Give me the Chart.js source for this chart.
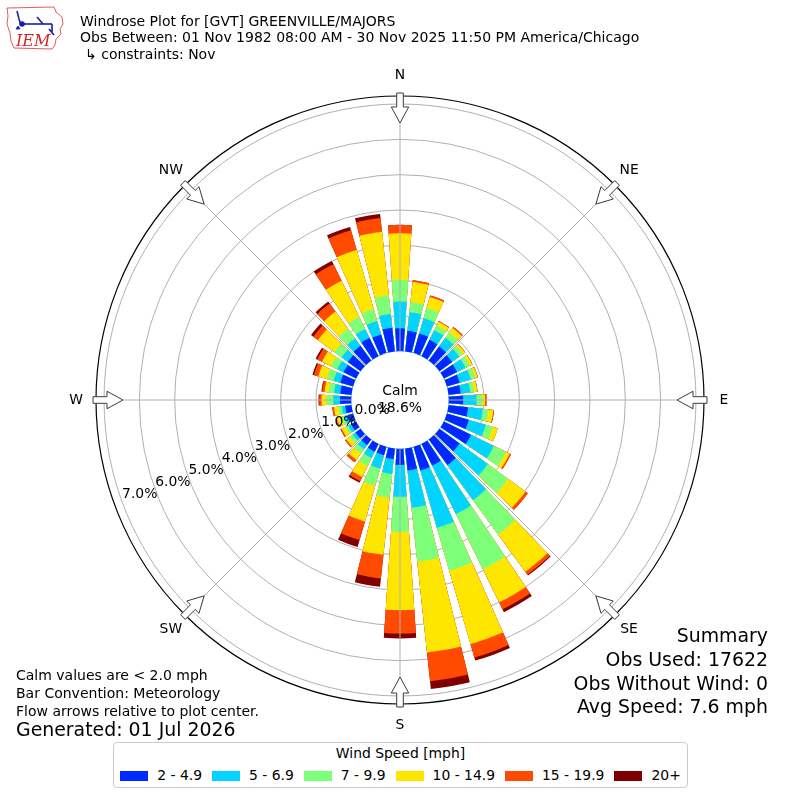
<!DOCTYPE html>
<html>
<head>
<meta charset="utf-8">
<script src="https://cdn.jsdelivr.net/npm/chart.js@4.4.1/dist/chart.umd.min.js"></script>
<style>
  html, body { margin: 0; padding: 0; background: #fff; }
  #wrap { position: relative; width: 800px; height: 800px; overflow: hidden; font-family: "DejaVu Sans", sans-serif; color: #000; }
  #c { position: absolute; left: 0; top: 0; }
  .t { position: absolute; white-space: nowrap; line-height: 1; z-index: 2; }
  .s14 { font-size: 14px; }
  .s19 { font-size: 18.9px; }
  #legend { position: absolute; left: 113px; top: 742px; width: 575px; height: 46px; border: 1px solid #cccccc; border-radius: 4px; background: #fff; z-index: 2; box-sizing: border-box; }
  #legendTitle { position: absolute; left: 0; right: 0; top: 4px; text-align: center; font-size: 13.9px; line-height: 1; }
  #legendRow { position: absolute; left: 0; right: 0; top: 26px; display: flex; justify-content: center; align-items: center; font-size: 13.9px; line-height: 1; }
  .sw { width: 28px; height: 10px; display: inline-block; margin-right: 9px; }
  .it { display: flex; align-items: center; margin: 0 5px; }
</style>
</head>
<body>
<div id="wrap">
  <canvas id="c" width="800" height="800"></canvas>

  <svg style="position:absolute;left:5px;top:5px;z-index:2" width="62" height="46" viewBox="0 0 62 46">
    <path d="M2,3 L49,2 L51,7 L57,12 L58,19 L55,24 L56,29 L51,34 L50,40 L47,44 L9,43 L6,36 L5,28 L2,19 L3,11 Z" fill="#fff" stroke="#e04848" stroke-width="0.9"/>
    <g stroke="#1b1ba8" fill="#1b1ba8" stroke-width="1.6">
      <line x1="12" y1="6" x2="14" y2="14"/>
      <line x1="14" y1="14" x2="16" y2="20"/>
      <circle cx="17" cy="19" r="2"/>
      <line x1="17" y1="19" x2="47" y2="19"/>
      <line x1="32" y1="12" x2="38" y2="19"/>
      <line x1="47" y1="19" x2="47" y2="27"/>
      <line x1="44" y1="24" x2="49" y2="30"/>
      <path d="M11,24 l2,-3 l2,3 z" stroke-width="0.8"/>
    </g>
    <text x="11" y="41" font-family="DejaVu Serif, serif" font-style="italic" font-size="16" fill="#d42424">IEM</text>
  </svg>

  <div class="t s14" style="left:80px;top:14px;">Windrose Plot for [GVT] GREENVILLE/MAJORS</div>
  <div class="t s14" style="left:80px;top:30px;">Obs Between: 01 Nov 1982 08:00 AM - 30 Nov 2025 11:50 PM America/Chicago</div>
  <div class="t s14" style="left:85px;top:46.5px;">↳ constraints: Nov</div>

  <div class="t s14" style="left:16px;top:668px;">Calm values are &lt; 2.0 mph</div>
  <div class="t s14" style="left:16px;top:686px;">Bar Convention: Meteorology</div>
  <div class="t s14" style="left:16px;top:704px;">Flow arrows relative to plot center.</div>
  <div class="t s19" style="left:16px;top:719.5px;">Generated: 01 Jul 2026</div>

  <div class="t s19" style="right:32px;top:626px;text-align:right;">Summary</div>
  <div class="t s19" style="right:32px;top:650px;text-align:right;">Obs Used: 17622</div>
  <div class="t s19" style="right:32px;top:674px;text-align:right;">Obs Without Wind: 0</div>
  <div class="t s19" style="right:32px;top:697px;text-align:right;">Avg Speed: 7.6 mph</div>

  <div id="legend">
    <div id="legendTitle">Wind Speed [mph]</div>
    <div id="legendRow"></div>
  </div>
</div>

<script>
// ---------------- DATA ----------------
// Wind direction sectors (degrees, meteorological: direction wind blows from)
const directions = [0, 10, 20, 30, 40, 50, 60, 70, 80, 90, 100, 110, 120, 130, 140, 150, 160, 170,
                    180, 190, 200, 210, 220, 230, 240, 250, 260, 270, 280, 290, 300, 310, 320, 330, 340, 350];

// Frequency (% of observations) per direction for each speed bin
const spd2to5 = [0.65, 0.59, 0.58, 0.52, 0.50, 0.45, 0.42, 0.38, 0.35, 0.41, 0.56, 0.65, 0.86, 0.71, 0.90, 0.69, 0.70, 0.63,
                 0.46, 0.30, 0.25, 0.25, 0.20, 0.18, 0.16, 0.17, 0.18, 0.32, 0.32, 0.38, 0.40, 0.45, 0.52, 0.58, 0.55, 0.68];
const spd5to7 = [0.76, 0.53, 0.45, 0.30, 0.30, 0.25, 0.27, 0.33, 0.27, 0.38, 0.42, 0.50, 0.72, 0.99, 1.23, 1.53, 1.69, 1.06,
                 0.90, 0.43, 0.40, 0.20, 0.15, 0.10, 0.10, 0.10, 0.10, 0.19, 0.18, 0.20, 0.20, 0.22, 0.26, 0.28, 0.40, 0.39];
const spd7to10 = [0.61, 0.29, 0.30, 0.15, 0.18, 0.12, 0.13, 0.13, 0.11, 0.17, 0.16, 0.20, 0.38, 0.71, 1.20, 1.74, 1.26, 1.53,
                  0.99, 0.67, 0.50, 0.25, 0.15, 0.10, 0.08, 0.09, 0.10, 0.19, 0.15, 0.20, 0.20, 0.25, 0.34, 0.38, 0.35, 0.53];
const spd10to15 = [1.32, 0.57, 0.33, 0.12, 0.16, 0.08, 0.08, 0.07, 0.09, 0.07, 0.14, 0.15, 0.12, 0.61, 1.31, 1.04, 2.16, 2.59,
                   2.22, 1.63, 1.05, 0.35, 0.22, 0.13, 0.12, 0.12, 0.12, 0.14, 0.12, 0.25, 0.28, 0.58, 0.60, 1.14, 1.74, 1.81];
const spd15to20 = [0.24, 0.05, 0.04, 0.02, 0.04, 0.01, 0.01, 0.01, 0.01, 0.04, 0.02, 0.00, 0.04, 0.08, 0.10, 0.22, 0.40, 0.82,
                   0.66, 0.67, 0.55, 0.13, 0.08, 0.04, 0.04, 0.04, 0.05, 0.07, 0.07, 0.13, 0.15, 0.16, 0.28, 0.52, 0.58, 0.39];
const spd20plus = [0.00, 0.00, 0.00, 0.00, 0.00, 0.00, 0.00, 0.00, 0.00, 0.00, 0.00, 0.00, 0.00, 0.00, 0.03, 0.09, 0.09, 0.22,
                   0.14, 0.24, 0.20, 0.05, 0.00, 0.00, 0.00, 0.00, 0.00, 0.02, 0.02, 0.04, 0.05, 0.08, 0.07, 0.10, 0.10, 0.12];

const binLabels = ['2 - 4.9', '5 - 6.9', '7 - 9.9', '10 - 14.9', '15 - 19.9', '20+'];
const binColors = ['#0029ff', '#00d4ff', '#7dff7a', '#ffe600', '#ff4a00', '#800000'];

const ringValues = [0, 1, 2, 3, 4, 5, 6, 7];           // radial grid / tick labels (%)
const compassNames = ['N', 'NE', 'E', 'SE', 'S', 'SW', 'W', 'NW'];
const compassDeg = [0, 45, 90, 135, 180, 225, 270, 315];
const calmPct = 18.6;

// ---------------- AXIS SETTINGS ----------------
const R_MIN = -1.378;   // leaves room for the calm circle inside 0 %
const R_MAX = 7.227;
const BAR_DEG = 7.8;    // angular width of a bar
const GAP_DEG = 2.2;    // angular gap between bars

// ---------------- BUILD ----------------
const bins = [spd2to5, spd5to7, spd7to10, spd10to15, spd15to20, spd20plus];
const labels = [];
directions.forEach(d => { labels.push(d + '°'); labels.push(''); });

const datasets = bins.map((_, k) => {
  const data = [];
  directions.forEach((d, i) => {
    let c = 0;
    for (let j = 0; j <= k; j++) c += bins[j][i];
    data.push(c);   // stacked (cumulative) bar
    data.push(0);   // gap sector
  });
  return {
    label: binLabels[k],
    data,
    backgroundColor: binColors[k],
    borderWidth: 0,
    angle: (ctx) => (ctx.dataIndex % 2 === 0 ? BAR_DEG : GAP_DEG)
  };
});

// legend (HTML)
const row = document.getElementById('legendRow');
binLabels.forEach((l, k) => {
  const it = document.createElement('div');
  it.className = 'it';
  const sw = document.createElement('span');
  sw.className = 'sw';
  sw.style.background = binColors[k];
  const tx = document.createElement('span');
  tx.textContent = l;
  it.appendChild(sw); it.appendChild(tx);
  row.appendChild(it);
});

const FONT = '13.9px "DejaVu Sans", sans-serif';

const windroseDecor = {
  id: 'windroseDecor',
  afterDatasetsDraw(chart) {
    const s = chart.scales.r, ctx = chart.ctx;
    ctx.save();
    ctx.beginPath();
    ctx.arc(s.xCenter, s.yCenter, s.getDistanceFromCenterForValue(0), 0, Math.PI * 2);
    ctx.fillStyle = '#fff';
    ctx.fill();
    ctx.restore();
  },
  afterDraw(chart) {
    const s = chart.scales.r, ctx = chart.ctx;
    const cx = s.xCenter, cy = s.yCenter, R = s.drawingArea;
    const r0 = s.getDistanceFromCenterForValue(0);
    ctx.save();
    // spokes
    ctx.strokeStyle = '#b0b0b0';
    ctx.lineWidth = 1;
    compassDeg.forEach(b => {
      const a = b * Math.PI / 180, ux = Math.sin(a), uy = -Math.cos(a);
      ctx.beginPath();
      ctx.moveTo(cx + ux * r0, cy + uy * r0);
      ctx.lineTo(cx + ux * R, cy + uy * R);
      ctx.stroke();
    });
    // flow arrows (pointing to the centre)
    compassDeg.forEach(b => {
      const a = b * Math.PI / 180, ux = Math.sin(a), uy = -Math.cos(a), vx = Math.cos(a), vy = Math.sin(a);
      const pts = [[R + 3, -3.3], [R - 11, -3.3], [R - 11, -8.7], [R - 27, 0], [R - 11, 8.7], [R - 11, 3.3], [R + 3, 3.3]];
      ctx.beginPath();
      pts.forEach((p, i) => {
        const x = cx + ux * p[0] + vx * p[1], y = cy + uy * p[0] + vy * p[1];
        if (i === 0) ctx.moveTo(x, y); else ctx.lineTo(x, y);
      });
      ctx.closePath();
      ctx.fillStyle = '#fff';
      ctx.fill();
      ctx.strokeStyle = '#3a3a3a';
      ctx.lineWidth = 1;
      ctx.stroke();
    });
    // compass labels
    ctx.fillStyle = '#000';
    ctx.font = FONT;
    ctx.textAlign = 'center';
    ctx.textBaseline = 'middle';
    compassDeg.forEach((b, i) => {
      const a = b * Math.PI / 180;
      ctx.fillText(compassNames[i], cx + Math.sin(a) * (R + 20), cy - Math.cos(a) * (R + 21));
    });
    // radial tick labels along bearing 250°
    const la = 250 * Math.PI / 180;
    ringValues.forEach(v => {
      const d = s.getDistanceFromCenterForValue(v) - 19;
      ctx.fillText(v.toFixed(1) + '%', cx + Math.sin(la) * d, cy - Math.cos(la) * d);
    });
    // calm text
    ctx.fillText('Calm', cx, cy - 9);
    ctx.fillText(calmPct.toFixed(1) + '%', cx, cy + 8);
    ctx.restore();
  }
};

new Chart(document.getElementById('c'), {
  type: 'polarArea',
  data: { labels, datasets },
  options: {
    responsive: false,
    animation: false,
    devicePixelRatio: 1,
    layout: { padding: { left: 96, right: 96, top: 96, bottom: 96 } },
    plugins: { legend: { display: false }, tooltip: { enabled: false } },
    scales: {
      r: {
        min: R_MIN,
        max: R_MAX,
        startAngle: -BAR_DEG / 2,
        ticks: { display: false, z: 1 },
        angleLines: { display: false },
        pointLabels: { display: false },
        grid: {
          circular: true,
          color: (ctx) => (ctx.tick && (ctx.tick.value === 0 || ctx.tick.value === R_MAX)) ? '#000' : '#b0b0b0',
          lineWidth: (ctx) => (ctx.tick && ctx.tick.value === R_MAX) ? 1.2 : 1
        },
        afterBuildTicks: (scale) => {
          scale.ticks = ringValues.concat([R_MAX]).map(v => ({ value: v }));
        }
      }
    }
  },
  plugins: [windroseDecor]
});
</script>
</body>
</html>
